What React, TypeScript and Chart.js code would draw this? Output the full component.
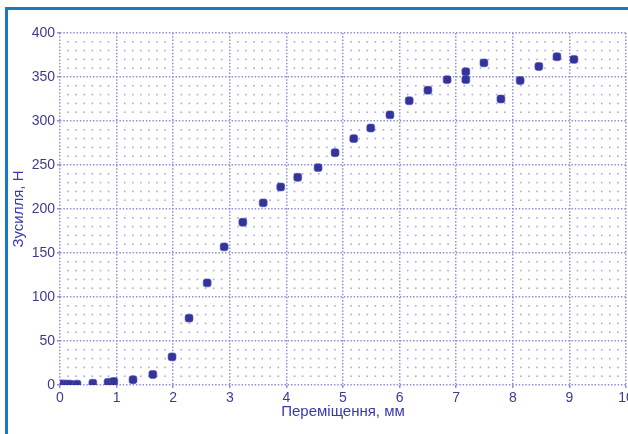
import React, { useEffect, useRef } from "react";
import { Chart, registerables } from "chart.js";

Chart.register(...registerables);

const xValues = [0, 0.03, 0.07, 0.12, 0.18, 0.3, 0.58, 0.85, 0.9, 0.95, 1.29, 1.64, 1.98, 2.28, 2.6, 2.9, 3.23, 3.59, 3.9, 4.2, 4.56, 4.86, 5.19, 5.49, 5.83, 6.17, 6.5, 6.84, 7.17, 7.17, 7.49, 7.79, 8.13, 8.46, 8.78, 9.08];
const yValues = [1, 1, 1, 1, 1, 1, 2, 3, 3, 4, 6, 12, 32, 76, 116, 157, 185, 207, 225, 236, 247, 264, 280, 292, 307, 323, 335, 347, 347, 356, 366, 325, 346, 362, 373, 370];
const xTitle = "Переміщення, мм";
const yTitle = "Зусилля, Н";
const xMax = 10;
const yMax = 400;
const minorXPerMajor = 7;
const minorYStep = 10;

const FONT = "'Liberation Sans', Arial, sans-serif";
const TICK_COLOR = "#3d3d8e";
const TITLE_COLOR = "#3838b0";
const GRID_COLOR = "#9090da";

const minorDots = {
  id: "minorDots",
  beforeDatasetsDraw(chart: any) {
    const { ctx, chartArea, scales } = chart;
    const xs = scales.x;
    const ys = scales.y;
    ctx.save();
    ctx.beginPath();
    ctx.rect(chartArea.left, chartArea.top, chartArea.right - chartArea.left, chartArea.bottom - chartArea.top);
    ctx.clip();
    ctx.fillStyle = "rgba(140,140,215,0.75)";
    for (let i = 0; i <= xMax * minorXPerMajor; i++) {
      if (i % minorXPerMajor === 0) continue;
      const px = xs.getPixelForValue(i / minorXPerMajor);
      for (let v = 0; v <= yMax; v += minorYStep) {
        if (v % 50 === 0) continue;
        const py = ys.getPixelForValue(v);
        ctx.fillRect(px - 0.8, py - 0.8, 1.6, 1.6);
      }
    }
    ctx.restore();
  },
};

export default function App() {
  const ref = useRef<HTMLCanvasElement | null>(null);

  useEffect(() => {
    document.body.style.margin = "0";
    const canvas = ref.current;
    if (!canvas) return;
    const chart = new Chart(canvas, {
      type: "scatter",
      data: {
        datasets: [
          {
            data: xValues.map((x, i) => ({ x, y: yValues[i] })),
            backgroundColor: "#33339c",
            borderColor: "rgba(80,80,180,0.6)",
            borderWidth: 1,
            pointStyle: "rectRounded",
            pointRadius: 4.6,
            pointHoverRadius: 4.6,
          },
        ],
      },
      options: {
        animation: false,
        responsive: false,
        devicePixelRatio: 1,
        layout: { padding: { left: 8, top: 33, right: 14, bottom: 8 } },
        plugins: { legend: { display: false }, tooltip: { enabled: false } },
        scales: {
          x: {
            type: "linear",
            min: 0,
            max: xMax,
            afterFit: (s: any) => {
              s.height = 41;
            },
            ticks: { stepSize: 1, color: TICK_COLOR, font: { family: FONT, size: 14 }, padding: 2, maxRotation: 0 },
            grid: { color: GRID_COLOR, lineWidth: 1.5, tickLength: 3, tickColor: GRID_COLOR },
            border: { display: false, dash: [1.5, 1.8] },
            title: { display: true, text: xTitle, color: TITLE_COLOR, font: { family: FONT, size: 15 }, padding: { top: 2, bottom: 5 } },
          },
          y: {
            type: "linear",
            min: 0,
            max: yMax,
            afterFit: (s: any) => {
              s.width = 52;
            },
            ticks: { stepSize: 50, color: TICK_COLOR, font: { family: FONT, size: 14 }, padding: 2 },
            grid: { color: GRID_COLOR, lineWidth: 1.5, tickLength: 3, tickColor: GRID_COLOR },
            border: { display: false, dash: [1.5, 1.8] },
            title: { display: true, text: yTitle, color: TITLE_COLOR, font: { family: FONT, size: 15 }, padding: { top: 2, bottom: 4 } },
          },
        },
      },
      plugins: [minorDots],
    } as any);
    return () => chart.destroy();
  }, []);

  return (
    <div style={{ position: "relative", width: 628, height: 434, overflow: "hidden", background: "#fff" }}>
      <canvas ref={ref} width={640} height={434} style={{ display: "block", width: 640, height: 434 }} />
      <div
        style={{
          position: "absolute",
          left: 5,
          top: 7,
          width: 700,
          height: 500,
          borderTop: "3px solid #1a78c2",
          borderLeft: "3px solid #1a78c2",
          pointerEvents: "none",
        }}
      />
    </div>
  );
}
